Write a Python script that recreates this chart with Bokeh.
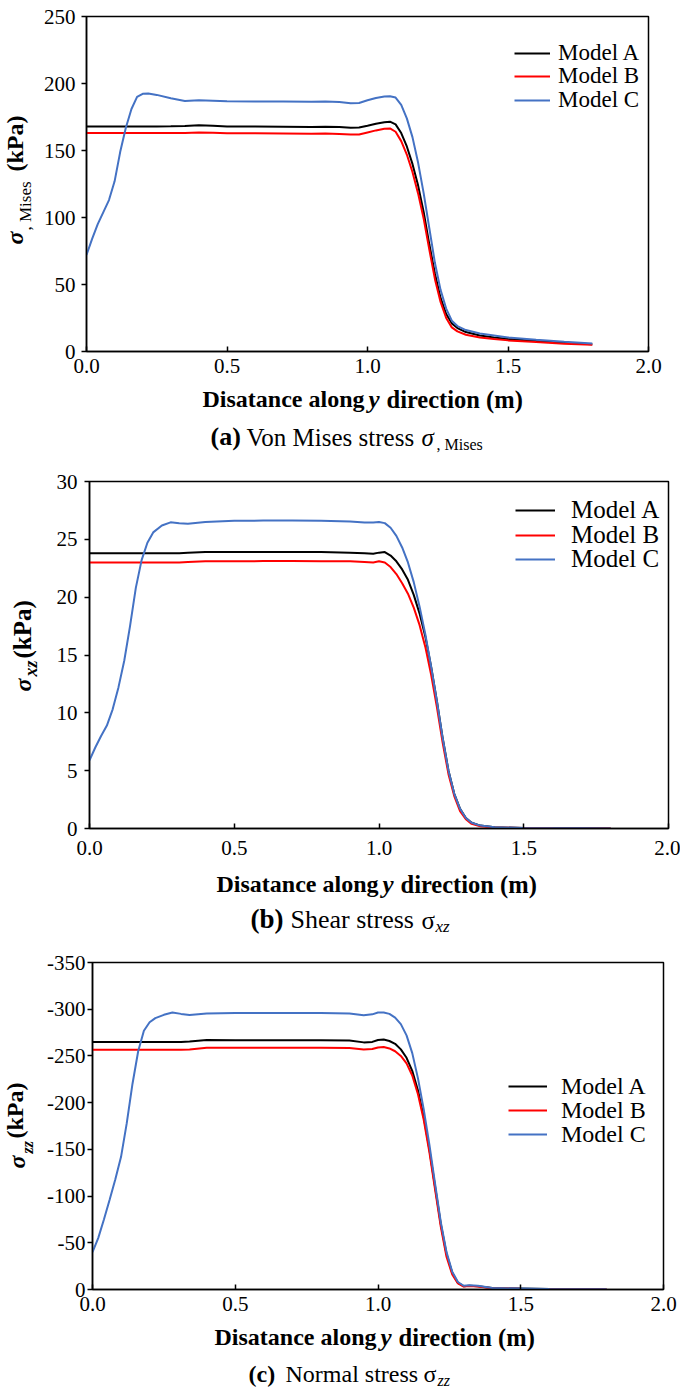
import math
from bokeh.plotting import figure
from bokeh.models import Range1d, FixedTicker, Label, Legend, LegendItem
from bokeh.layouts import column, row
from bokeh.embed import file_html
from bokeh.resources import INLINE

FONT = "Liberation Serif"
SERIES = ["Model A", "Model B", "Model C"]
COLORS = ["#000000", "#ff0000", "#4472c4"]
X_TICKS = [0.0, 0.5, 1.0, 1.5, 2.0]
X_TICK_LABELS = ["0.0", "0.5", "1.0", "1.5", "2.0"]

# ---------------- (a) Von Mises stress ----------------
xa = [0.00, 0.02, 0.04, 0.06, 0.08, 0.10, 0.12, 0.14, 0.16, 0.18,
      0.20, 0.22, 0.25, 0.30, 0.35, 0.40, 0.45, 0.50, 0.60, 0.70,
      0.80, 0.85, 0.90, 0.94, 0.97, 1.00, 1.03, 1.06, 1.08, 1.10,
      1.12, 1.14, 1.16, 1.18, 1.20, 1.22, 1.24, 1.26, 1.28, 1.30,
      1.32, 1.35, 1.40, 1.45, 1.50, 1.60, 1.70, 1.80]
a_model_a = [168.0, 168.0, 168.0, 168.0, 168.0, 168.0, 168.0, 168.0, 168.0, 168.0,
             168.0, 168.0, 168.0, 168.1, 168.3, 168.8, 168.5, 168.0, 167.9, 167.8,
             167.6, 167.8, 167.5, 167.0, 167.2, 168.5, 170.0, 171.0, 171.5, 169.5,
             163.0, 153.0, 140.0, 124.0, 104.0, 80.0, 58.0, 40.0, 28.0, 21.0,
             17.5, 14.5, 12.0, 10.5, 9.3, 7.8, 6.5, 5.5]
a_model_b = [163.0, 163.0, 163.0, 163.0, 163.0, 163.0, 163.0, 163.0, 163.0, 163.0,
             163.0, 163.0, 163.0, 163.0, 163.1, 163.4, 163.2, 162.9, 162.8, 162.7,
             162.5, 162.7, 162.4, 161.9, 162.0, 163.5, 165.0, 166.3, 166.5, 164.0,
             157.0, 147.0, 134.0, 118.0, 99.0, 76.0, 54.0, 37.0, 25.0, 18.0,
             15.0, 12.5, 10.5, 9.3, 8.3, 7.0, 5.8, 5.0]
a_model_c = [72.0, 84.0, 95.0, 104.0, 113.0, 127.0, 149.0, 167.0, 181.0, 190.0,
             192.3, 192.5, 191.5, 189.0, 187.0, 187.5, 187.2, 186.8, 186.6, 186.5,
             186.3, 186.5, 186.2, 185.3, 185.5, 187.5, 189.2, 190.3, 190.5, 189.5,
             184.0, 174.0, 160.0, 141.0, 118.0, 92.0, 66.0, 46.0, 32.0, 23.0,
             19.0, 16.0, 13.5, 12.0, 10.5, 8.8, 7.3, 6.0]
a_yticks = [0, 50, 100, 150, 200, 250]
a_ytick_labels = ["0", "50", "100", "150", "200", "250"]

# ---------------- (b) Shear stress ----------------
xb = [0.00, 0.02, 0.04, 0.06, 0.08, 0.10, 0.12, 0.14, 0.16, 0.18,
      0.20, 0.22, 0.25, 0.28, 0.31, 0.34, 0.40, 0.50, 0.60, 0.70,
      0.80, 0.90, 0.95, 0.98, 1.00, 1.02, 1.04, 1.06, 1.08, 1.10,
      1.12, 1.14, 1.16, 1.18, 1.20, 1.22, 1.24, 1.26, 1.28, 1.30,
      1.32, 1.35, 1.40, 1.50, 1.60, 1.70, 1.80]
b_model_a = [23.8, 23.8, 23.8, 23.8, 23.8, 23.8, 23.8, 23.8, 23.8, 23.8,
             23.8, 23.8, 23.8, 23.8, 23.8, 23.85, 23.9, 23.9, 23.9, 23.9,
             23.9, 23.85, 23.8, 23.75, 23.85, 23.9, 23.6, 23.1, 22.4, 21.5,
             20.2, 18.6, 16.6, 14.0, 11.0, 7.8, 5.0, 3.0, 1.7, 0.9,
             0.5, 0.25, 0.1, 0.05, 0.03, 0.02, 0.0]
b_model_b = [23.0, 23.0, 23.0, 23.0, 23.0, 23.0, 23.0, 23.0, 23.0, 23.0,
             23.0, 23.0, 23.0, 23.0, 23.0, 23.05, 23.1, 23.1, 23.12, 23.12,
             23.1, 23.1, 23.05, 23.0, 23.1, 23.0, 22.6, 22.0, 21.2, 20.3,
             19.1, 17.6, 15.7, 13.3, 10.5, 7.4, 4.7, 2.8, 1.5, 0.8,
             0.4, 0.2, 0.08, 0.04, 0.02, 0.01, 0.0]
b_model_c = [5.9, 7.0, 8.0, 8.9, 10.3, 12.2, 14.5, 17.5, 20.8, 23.2,
             24.7, 25.6, 26.2, 26.47, 26.4, 26.35, 26.5, 26.6, 26.62, 26.62,
             26.6, 26.55, 26.45, 26.45, 26.5, 26.4, 26.0, 25.3, 24.3, 23.0,
             21.3, 19.2, 16.8, 14.0, 11.0, 7.8, 5.0, 3.0, 1.7, 0.9,
             0.5, 0.25, 0.1, 0.05, 0.03, 0.02, 0.0]
b_yticks = [0, 5, 10, 15, 20, 25, 30]
b_ytick_labels = ["0", "5", "10", "15", "20", "25", "30"]

# ---------------- (c) Normal stress ----------------
xc = list(xb)
c_model_a = [-265.0, -265.0, -265.0, -265.0, -265.0, -265.0, -265.0, -265.0, -265.0, -265.0,
             -265.0, -265.0, -265.0, -265.0, -265.0, -265.5, -267.0, -266.8, -266.8, -266.8,
             -266.7, -266.5, -264.5, -265.0, -267.0, -267.5, -266.0, -263.0, -257.0, -248.0,
             -234.0, -213.0, -185.0, -150.0, -110.0, -70.0, -38.0, -18.0, -7.0, -3.5,
             -4.0, -3.5, -1.5, -1.0, -0.5, -0.3, -0.2]
c_model_b = [-256.5, -256.5, -256.5, -256.5, -256.5, -256.5, -256.5, -256.5, -256.5, -256.5,
             -256.5, -256.5, -256.5, -256.5, -256.5, -257.0, -258.8, -258.8, -258.8, -258.8,
             -258.8, -258.6, -257.0, -257.5, -259.0, -259.5, -258.0, -255.0, -250.0, -242.0,
             -229.0, -209.0, -182.0, -147.0, -107.0, -67.0, -35.0, -16.0, -6.5, -3.2,
             -3.8, -3.3, -1.4, -0.9, -0.5, -0.3, -0.2]
c_model_c = [-40.0, -55.0, -75.0, -96.0, -118.0, -142.0, -178.0, -220.0, -255.0, -277.0,
             -286.0, -290.5, -294.0, -296.5, -295.0, -293.8, -295.5, -296.0, -296.0, -296.0,
             -296.0, -295.5, -293.5, -294.5, -296.5, -296.5, -295.0, -291.0, -284.0, -272.0,
             -253.0, -226.0, -193.0, -155.0, -113.0, -72.0, -40.0, -19.0, -8.0, -4.0,
             -4.5, -4.0, -1.5, -1.0, -0.5, -0.3, -0.2]
c_yticks = [0, -50, -100, -150, -200, -250, -300, -350]
c_ytick_labels = ["0", "-50", "-100", "-150", "-200", "-250", "-300", "-350"]

PAGE_W = 680   # total width (page x 0..680)
MID = 0.3375   # distance (in em) from the text-box middle down to the baseline


def no_align(p):
    try:
        p.frame_align = False
    except Exception:
        pass


def make_chart(x, ys, y_start, y_end, yticks, ytick_labels, geo, left_page, top_page, height,
               xt_standoff, yt_standoff, legend_rows):
    L, R, T, B = geo
    width = PAGE_W - left_page
    p = figure(width=width, height=height,
               x_range=Range1d(0, 2), y_range=Range1d(y_start, y_end),
               output_backend="svg", toolbar_location=None,
               min_border_left=L - left_page, min_border_right=PAGE_W - R,
               min_border_top=T - top_page, min_border_bottom=top_page + height - B)
    no_align(p)
    p.xgrid.visible = False
    p.ygrid.visible = False
    p.outline_line_color = "black"
    p.outline_line_width = 1.5
    p.outline_line_alpha = 1.0
    p.background_fill_color = "white"
    p.border_fill_color = "white"

    xa_ = p.xaxis[0]
    xa_.ticker = FixedTicker(ticks=X_TICKS)
    xa_.major_label_overrides = {t: s for t, s in zip(X_TICKS, X_TICK_LABELS)}
    xa_.major_tick_in = 5
    xa_.major_tick_out = 0
    xa_.major_label_standoff = xt_standoff
    ya_ = p.yaxis[0]
    ya_.ticker = FixedTicker(ticks=yticks)
    ya_.major_label_overrides = {t: s for t, s in zip(yticks, ytick_labels)}
    ya_.major_tick_in = 0
    ya_.major_tick_out = 5
    ya_.major_label_standoff = yt_standoff
    for ax in (xa_, ya_):
        ax.axis_line_width = 1.5
        ax.axis_line_color = "black"
        ax.major_tick_line_width = 1.5
        ax.major_tick_line_color = "black"
        ax.minor_tick_line_color = None
        ax.major_label_text_font = FONT
        ax.major_label_text_font_size = "21px"
        ax.major_label_text_color = "black"

    renderers = []
    for yv, col in zip(ys, COLORS):
        renderers.append(p.line(x, yv, line_color=col, line_width=2))

    for name, r, (gl, cy, fsize, gw, standoff) in zip(SERIES, renderers, legend_rows):
        h = fsize * 1.13
        lg = Legend(items=[LegendItem(label=name, renderers=[r])],
                    location=(gl - L, B - (cy + h / 2)),
                    orientation="vertical",
                    label_text_font=FONT, label_text_font_size=f"{fsize}px",
                    label_text_color="black",
                    glyph_width=gw, glyph_height=16, label_height=16,
                    label_standoff=standoff, spacing=0, padding=0, margin=0,
                    border_line_color=None, background_fill_alpha=0)
        p.add_layout(lg)
    return p


def text_fig(ox, oy, width, height, items):
    """Blank figure whose frame is the whole canvas; items give baseline points in page pixels."""
    p = figure(width=width, height=height, x_range=Range1d(0, width), y_range=Range1d(0, height),
               output_backend="svg", toolbar_location=None, min_border=0,
               x_axis_type=None, y_axis_type=None)
    no_align(p)
    p.outline_line_color = None
    p.background_fill_color = "white"
    p.border_fill_color = "white"
    for (px, py, text, size, style, align, rotated) in items:
        if rotated:
            ax_, ay_, ang = px - MID * size, py, math.pi / 2
        else:
            ax_, ay_, ang = px, py - MID * size, 0.0
        p.add_layout(Label(x=ax_ - ox, y=height - (ay_ - oy), x_units="data", y_units="data",
                           text=text, text_font=FONT, text_font_size=f"{size}px",
                           text_font_style=style, text_align=align,
                           text_baseline="middle", angle=ang, text_color="black"))
    return p


# ---------- panel a : chart page y 0..385, texts below 385..465 ----------
YW_A = 40
geo_a = (83, 648, 16, 351)
ch_a = make_chart(xa, [a_model_a, a_model_b, a_model_c], 0, 250, a_yticks, a_ytick_labels,
                  geo_a, YW_A, 0, 385, 7, 6,
                  [(511, 53, 23, 36, 8), (511, 76.5, 23, 36, 8), (511, 100, 23, 36, 8)])
yl_a = text_fig(0, 0, YW_A, 385, [
    (22.5, 244, "σ", 24, "bold italic", "left", True),
    (31, 230, ", Mises", 17, "normal", "left", True),
    (22.5, 171, "(kPa)", 24, "bold", "left", True),
])
bt_a = text_fig(0, 385, PAGE_W, 80, [
    (364, 407, "Disatance along", 24, "bold", "right", False),
    (368, 407, "y", 25, "bold italic", "left", False),
    (386, 407, "direction (m)", 24.5, "bold", "left", False),
    (210, 445, "(a)", 26, "bold", "left", False),
    (246, 445, "Von Mises stress", 25, "normal", "left", False),
    (421, 445, "σ", 25, "italic", "left", False),
    (436, 449, ", Mises", 16, "normal", "left", False),
])

# ---------- panel b : chart page y 465..862, texts below 862..938 ----------
YW_B = 46
geo_b = (89, 668, 481, 828)
ch_b = make_chart(xb, [b_model_a, b_model_b, b_model_c], 0, 30, b_yticks, b_ytick_labels,
                  geo_b, YW_B, 465, 397, 12, 7,
                  [(515, 510, 25, 40, 16), (515, 534.5, 25, 40, 16), (515, 559, 25, 40, 16)])
yl_b = text_fig(0, 465, YW_B, 397, [
    (31, 691, "σ", 24, "bold italic", "left", True),
    (37, 676, "xz", 18, "bold italic", "left", True),
    (30, 658, "(kPa)", 25, "bold", "left", True),
])
bt_b = text_fig(0, 862, PAGE_W, 76, [
    (378, 892, "Disatance along", 24, "bold", "right", False),
    (382, 892, "y", 25, "bold italic", "left", False),
    (400, 892, "direction (m)", 24.5, "bold", "left", False),
    (250, 928, "(b)", 27, "bold", "left", False),
    (290, 928, "Shear stress", 26, "normal", "left", False),
    (421, 928, "σ", 25, "normal", "left", False),
    (435, 932, "xz", 17, "italic", "left", False),
])

# ---------- panel c : chart page y 938..1323, texts below 1323..1390 ----------
YW_C = 44
geo_c = (92, 663, 962, 1289)
ch_c = make_chart(xc, [c_model_a, c_model_b, c_model_c], 0, -350, c_yticks, c_ytick_labels,
                  geo_c, YW_C, 938, 385, 7, 2,
                  [(508, 1086, 24, 39, 14), (508, 1110, 24, 39, 14), (508, 1134, 24, 39, 14)])
yl_c = text_fig(0, 938, YW_C, 385, [
    (25, 1168, "σ", 24, "bold italic", "left", True),
    (32, 1153, "zz", 16, "bold italic", "left", True),
    (23, 1138, "(kPa)", 24, "bold", "left", True),
])
bt_c = text_fig(0, 1323, PAGE_W, 67, [
    (376, 1345, "Disatance along", 24, "bold", "right", False),
    (380, 1345, "y", 25, "bold italic", "left", False),
    (398, 1345, "direction (m)", 24.5, "bold", "left", False),
    (248, 1382, "(c)", 24, "bold", "left", False),
    (285, 1382, "Normal stress", 24, "normal", "left", False),
    (423, 1382, "σ", 24, "normal", "left", False),
    (437, 1385, "zz", 16, "italic", "left", False),
])

layout = column(row(yl_a, ch_a, spacing=0), bt_a,
                row(yl_b, ch_b, spacing=0), bt_b,
                row(yl_c, ch_c, spacing=0), bt_c, spacing=0)
open("out.html", "w").write(file_html(layout, INLINE))
